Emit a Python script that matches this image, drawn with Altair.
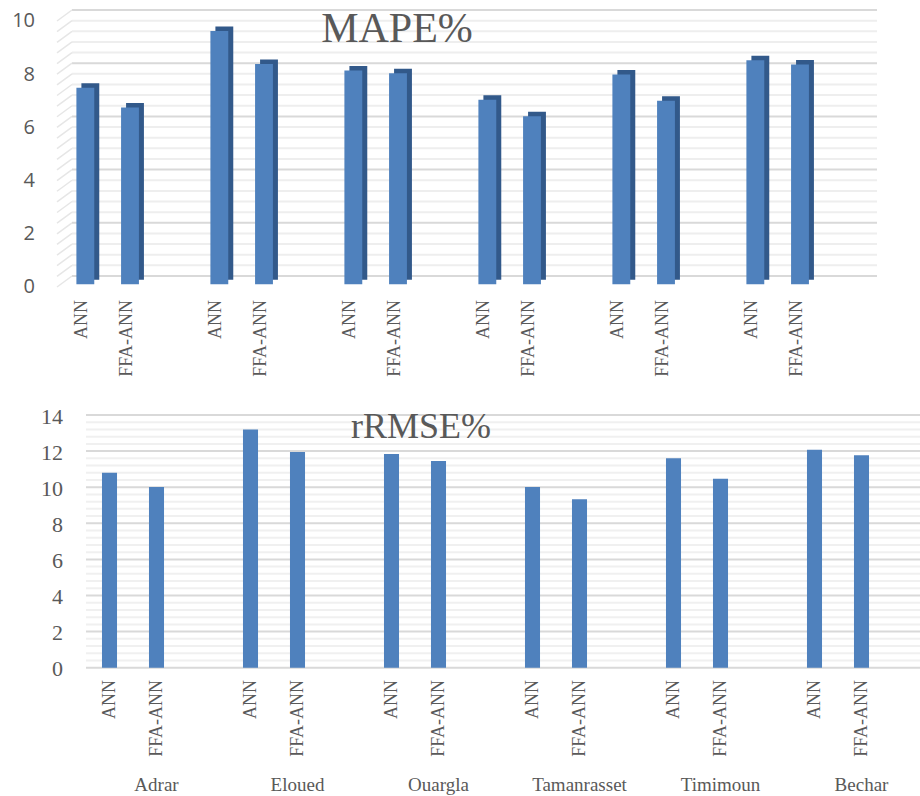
import altair as alt
import pandas as pd

# ---------------- data ----------------
locations = ["Adrar", "Eloued", "Ouargla", "Tamanrasset", "Timimoun", "Bechar"]
models = ["ANN", "FFA-ANN"]
mape_ann = [7.39, 9.52, 8.04, 6.94, 7.89, 8.42]
mape_ffa = [6.65, 8.28, 7.93, 6.32, 6.90, 8.26]
rrmse_ann = [10.80, 13.19, 11.84, 10.01, 11.60, 12.08]
rrmse_ffa = [10.01, 11.95, 11.45, 9.33, 10.47, 11.77]
mape_ticks = [0, 2, 4, 6, 8, 10]
rrmse_ticks = [0, 2, 4, 6, 8, 10, 12, 14]
mape_minor = [round(i * 0.4, 1) for i in range(26)]
rrmse_minor = [round(i * 0.4, 1) for i in range(36)]
titles = ["MAPE%", "rRMSE%"]

# ---------------- tables ----------------
slot_domain = [f"{l}|{m}" for l in locations for m in models + ["gap"]]
rows = []
for i, loc in enumerate(locations):
    rows.append({"loc": loc, "model": "ANN", "slot": f"{loc}|ANN",
                 "mape": mape_ann[i], "rrmse": rrmse_ann[i]})
    rows.append({"loc": loc, "model": "FFA-ANN", "slot": f"{loc}|FFA-ANN",
                 "mape": mape_ffa[i], "rrmse": rrmse_ffa[i]})
bars = pd.DataFrame(rows)
loc_df = pd.DataFrame({"loc": locations, "slot": [f"{l}|FFA-ANN" for l in locations]})

top_minor = pd.DataFrame({"v": [v for v in mape_minor if v not in mape_ticks]})
top_major = pd.DataFrame({"v": mape_ticks, "lab": [str(v) for v in mape_ticks]})
top_all = pd.DataFrame({"v": mape_minor})
bot_minor = pd.DataFrame({"v": [v for v in rrmse_minor if v not in rrmse_ticks]})
bot_major = pd.DataFrame({"v": rrmse_ticks, "lab": [str(v) for v in rrmse_ticks]})

SERIF = "Liberation Serif"
SANS = "Open Sans"
GRAY = "#595959"
BLUE = "#4F81BD"
DARK = "#32598A"

# ---------------- top panel (MAPE, pseudo 3D) ----------------
x_top = alt.X("slot:N", scale=alt.Scale(domain=slot_domain, range=[63, 867],
                                       paddingInner=0.6, paddingOuter=0.3), axis=None)
y_top_scale = alt.Scale(domain=[0, 10], range=[284.3, 18.3], nice=False)
y_top = alt.Y("v:Q", scale=y_top_scale, axis=None)

t_minor = alt.Chart(top_minor).mark_rule(color="#EEEEEE", strokeWidth=2, yOffset=-8.3).encode(
    y=y_top, x=alt.value(72), x2=alt.value(877))
t_major = alt.Chart(top_major).mark_rule(color="#D9D9D9", strokeWidth=2, yOffset=-8.3).encode(
    y=y_top, x=alt.value(72), x2=alt.value(877))
t_diag = alt.Chart(top_all).mark_rule(color="#E6E6E6", strokeWidth=1.5, yOffset=2.7, y2Offset=-8.3).encode(
    y=y_top, y2="v:Q", x=alt.value(57), x2=alt.value(72))
t_ticklab = alt.Chart(top_major).mark_text(align="right", baseline="middle", font=SANS, fontSize=20,
                                           color=GRAY, yOffset=3).encode(
    y=y_top, x=alt.value(35), text="lab:N")
t_shadow = alt.Chart(bars).mark_bar(color=DARK, xOffset=5, yOffset=-4.5).encode(
    x=x_top, y=alt.Y("mape:Q", scale=y_top_scale, axis=None))
t_bars = alt.Chart(bars).mark_bar(color=BLUE).encode(
    x=x_top, y=alt.Y("mape:Q", scale=y_top_scale, axis=None))
t_labels = alt.Chart(bars).mark_text(angle=270, align="right", baseline="middle", font=SERIF,
                                     fontSize=18, color=GRAY, xOffset=-3).encode(
    x=x_top, y=alt.value(300), text="model:N")
t_title = alt.Chart(pd.DataFrame({"t": [titles[0]]})).mark_text(
    font=SERIF, fontSize=42, color=GRAY, baseline="alphabetic", align="center").encode(
    x=alt.value(397), y=alt.value(42), text="t:N")

top = alt.layer(t_minor, t_major, t_diag, t_ticklab, t_shadow, t_bars, t_labels, t_title)

# ---------------- bottom panel (rRMSE, flat) ----------------
x_bot = alt.X("slot:N", scale=alt.Scale(domain=slot_domain, range=[86, 932],
                                       paddingInner=0.68, paddingOuter=0.34), axis=None)
y_bot_scale = alt.Scale(domain=[0, 14], range=[667.7, 415], nice=False)
y_bot = alt.Y("v:Q", scale=y_bot_scale, axis=None)

b_minor = alt.Chart(bot_minor).mark_rule(color="#F0F0F0", strokeWidth=2).encode(
    y=y_bot, x=alt.value(86), x2=alt.value(920))
b_major = alt.Chart(bot_major).mark_rule(color="#D9D9D9", strokeWidth=2).encode(
    y=y_bot, x=alt.value(86), x2=alt.value(920))
b_ticklab = alt.Chart(bot_major).mark_text(align="right", baseline="middle", font=SERIF, fontSize=22,
                                           color=GRAY, yOffset=1.5).encode(
    y=y_bot, x=alt.value(63), text="lab:N")
b_bars = alt.Chart(bars).mark_bar(color=BLUE).encode(
    x=x_bot, y=alt.Y("rrmse:Q", scale=y_bot_scale, axis=None))
b_labels = alt.Chart(bars).mark_text(angle=270, align="right", baseline="middle", font=SERIF,
                                     fontSize=18, color=GRAY).encode(
    x=x_bot, y=alt.value(680), text="model:N")
b_locs = alt.Chart(loc_df).mark_text(font=SERIF, fontSize=19, color=GRAY, baseline="alphabetic").encode(
    x=x_bot, y=alt.value(791), text="loc:N")
b_title = alt.Chart(pd.DataFrame({"t": [titles[1]]})).mark_text(
    font=SERIF, fontSize=36, color=GRAY, baseline="alphabetic", align="center").encode(
    x=alt.value(421), y=alt.value(437.7), text="t:N")

bottom = alt.layer(b_minor, b_major, b_ticklab, b_bars, b_labels, b_locs, b_title)

chart = alt.layer(top, bottom).resolve_scale(x="independent", y="independent").properties(
    width=920, height=796, padding=0, autosize=alt.AutoSizeParams(type="none"),
    background="white"
).configure_view(stroke=None)

chart.save("out.html", embed_options={"renderer": "svg", "actions": False})
